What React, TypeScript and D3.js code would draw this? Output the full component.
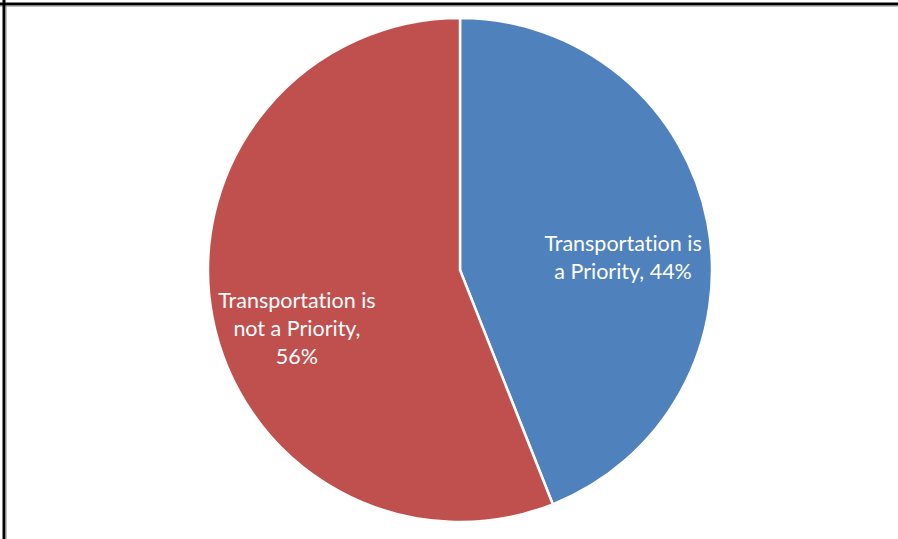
import React from "react";
import * as d3 from "d3";

const categories = ["Transportation is a Priority", "Transportation is not a Priority"];
const values = [44, 56];
const colors = ["#4F81BD", "#C0504D"];
const labelLines = [
  ["Transportation is", "a Priority, 44%"],
  ["Transportation is", "not a Priority,", "56%"],
];

const W = 898;
const H = 539;
const cx = 460;
const cy = 270;
const R = 252;
const labelR = 166;
const labelDy = [18, 27];
const lineH = 28;

export default function App() {
  const pie = d3.pie<number>().sort(null).value((d) => d)(values);
  const arc = d3.arc<d3.PieArcDatum<number>>().innerRadius(0).outerRadius(R);
  const labelArc = d3.arc<d3.PieArcDatum<number>>().innerRadius(labelR).outerRadius(labelR);
  return (
    <svg width={W} height={H} style={{ position: "absolute", left: 0, top: 0, background: "#fff" }}>
      <line x1={0} x2={W} y1={4} y2={4} stroke="#000" strokeWidth={3} />
      <line x1={0} x2={W} y1={6} y2={6} stroke="#888" strokeWidth={1} />
      <line x1={4} x2={4} y1={0} y2={H} stroke="#000" strokeWidth={3} />
      <line x1={6} x2={6} y1={6} y2={H} stroke="#888" strokeWidth={1} />
      <g transform={`translate(${cx},${cy})`}>
        {pie.map((p, i) => (
          <path key={categories[i]} d={arc(p) || ""} fill={colors[i]} stroke="#fff" strokeWidth={2.5} strokeLinejoin="round" />
        ))}
        {pie.map((p, i) => {
          const [lx, ly] = labelArc.centroid(p);
          const lines = labelLines[i];
          const y0 = ly + labelDy[i] - ((lines.length - 1) * lineH) / 2;
          return (
            <text key={"l" + i} x={lx} y={y0} textAnchor="middle" dominantBaseline="central" fill="#fff"
              style={{ fontFamily: "Lato, 'Open Sans', sans-serif", fontSize: 21.5, fontVariantLigatures: "none" }}>
              {lines.map((t, j) => (
                <tspan key={j} x={lx} y={y0 + j * lineH}>{t}</tspan>
              ))}
            </text>
          );
        })}
      </g>
    </svg>
  );
}
